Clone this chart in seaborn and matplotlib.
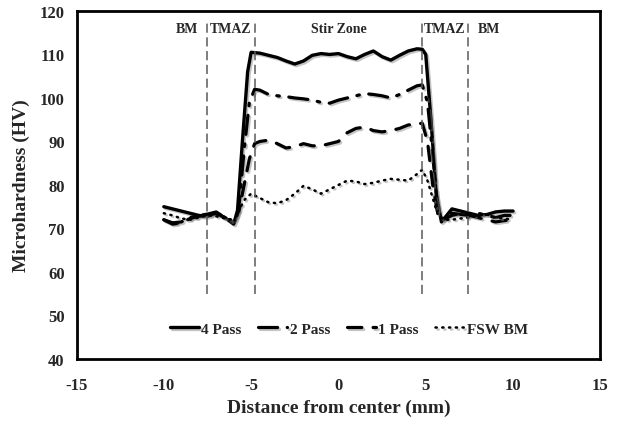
import matplotlib
matplotlib.use("Agg")
import matplotlib.pyplot as plt
import matplotlib.patheffects as pe
import seaborn as sns
import pandas as pd

# ---- data ----
x_4pass = [-10, -9.5, -9, -8.5, -8, -7.5, -7, -6.5, -6, -5.8, -5.5, -5.2, -5.0, -4.5, -4, -3.5, -3, -2.5, -2,
           -1.5, -1, -0.5, 0, 0.5, 1, 1.5, 2, 2.5, 3, 3.5, 4, 4.5, 4.8, 5.0, 5.3, 5.6, 5.9, 6.2, 6.5, 7, 7.5,
           8, 8.5, 9, 9.5, 10]
y_4pass = [75, 74.5, 74, 73.5, 73, 72.8, 73.5, 72.5, 71, 73, 90, 106, 110.5, 110.3, 109.8, 109.3, 108.5, 107.8,
           108.5, 109.8, 110.2, 110, 110.2, 109.5, 109, 110, 110.8, 109.5, 108.7, 109.8, 110.8, 111.3, 111.2,
           110, 95, 78, 71.5, 73, 74.5, 74, 73.5, 73, 73.2, 73.8, 74, 74]

x_2pass = [-10, -9.5, -9, -8.5, -8, -7.5, -7, -6.5, -6, -5.7, -5.4, -5.1, -4.8, -4.5, -4, -3.5, -3, -2.5, -2,
           -1.5, -1, -0.5, 0, 0.5, 1, 1.5, 2, 2.5, 3, 3.5, 4, 4.5, 4.8, 5.1, 5.4, 5.7, 6, 6.5, 7, 7.5, 8, 8.5,
           9, 9.5, 10]
y_2pass = [72, 71.3, 71.5, 72.5, 73, 73.3, 73.8, 72.5, 71.5, 75, 88, 99, 102, 101.8, 100.8, 100.5, 100.3, 100,
           99.8, 99.5, 99, 98.8, 99.5, 100, 100.5, 101, 100.8, 100.5, 100, 100.8, 101.8, 102.8, 103, 99, 87, 74,
           72, 73.5, 73.2, 73, 73.5, 73, 72.5, 73, 73]

x_1pass = [-10, -9.5, -9, -8.5, -8, -7.5, -7, -6.5, -6, -5.7, -5.4, -5.1, -4.8, -4.5, -4, -3.5, -3, -2.5, -2,
           -1.5, -1, -0.5, 0, 0.5, 1, 1.5, 2, 2.5, 3, 3.5, 4, 4.5, 4.8, 5.1, 5.4, 5.7, 6, 6.5, 7, 7.5, 8, 8.5,
           9, 9.5, 10]
y_1pass = [72, 71, 71.3, 72.3, 72.8, 73, 73.5, 72.5, 71.5, 74, 80, 86, 89.5, 90, 90.3, 89.5, 88.5, 88.8, 89.5,
           89, 89, 89.5, 90, 92, 93, 93.3, 92.5, 92.2, 92.5, 93, 93.8, 94, 94.2, 90, 80, 73, 72, 73, 73.5, 73,
           72.5, 72, 71.5, 71.8, 72]

x_fswbm = [-10, -9.5, -9, -8.5, -8, -7.5, -7, -6.5, -6, -5.7, -5.4, -5.0, -4.5, -4, -3.5, -3, -2.5, -2, -1.5,
           -1, -0.5, 0, 0.5, 1, 1.5, 2, 2.5, 3, 3.5, 4, 4.5, 4.8, 5.1, 5.4, 5.7, 6, 6.5, 7, 7.5, 8, 8.5, 9,
           9.5, 10]
y_fswbm = [73.5, 73, 72.3, 72, 72.5, 73, 72.8, 72.3, 72, 74, 76.5, 78, 77, 76, 75.8, 76.5, 78, 79.8, 79, 78,
           79, 80, 81, 80.8, 80.2, 80.5, 81, 81.4, 81.2, 81, 82.5, 83.5, 81, 77, 73, 72, 72, 72.3, 72.5, 73,
           73.2, 72.5, 72.3, 72]

series_names = ["4 Pass", "2 Pass", "1 Pass", "FSW BM"]
zone_lines = [-7.5, -4.8, 4.8, 7.4]
zone_labels = ["BM", "TMAZ", "Stir Zone", "TMAZ", "BM"]
zone_label_x = [-8.7, -6.2, 0.0, 6.05, 8.6]
x_ticks = [-15, -10, -5, 0, 5, 10, 15]
y_ticks = [40, 50, 60, 70, 80, 90, 100, 110, 120]

# ---- styling ----
sns.set_style("white")
plt.rcParams["font.family"] = ["Liberation Serif", "DejaVu Serif"]
plt.rcParams["font.weight"] = "bold"
plt.rcParams["axes.unicode_minus"] = False

fig = plt.figure(figsize=(6.17, 4.27), dpi=100)
ax = fig.add_axes([0.124, 0.157, 0.849, 0.815])

styles = {
    "4 Pass": "-",
    "2 Pass": (0, (6, 3, 0.8, 3)),
    "1 Pass": (0, (4.5, 3.5)),
    "FSW BM": (0, (0.5, 2.2)),
}
widths = {"4 Pass": 2.4, "2 Pass": 2.3, "1 Pass": 2.3, "FSW BM": 1.8}
data = {
    "4 Pass": (x_4pass, y_4pass),
    "2 Pass": (x_2pass, y_2pass),
    "1 Pass": (x_1pass, y_1pass),
    "FSW BM": (x_fswbm, y_fswbm),
}
shadow = [pe.SimpleLineShadow(offset=(1.2, -1.2), shadow_color="gray", alpha=0.45), pe.Normal()]

for name in series_names:
    xs, ys = data[name]
    df = pd.DataFrame({"x": xs, "y": ys})
    sns.lineplot(data=df, x="x", y="y", ax=ax, color="black", linestyle=styles[name],
                 linewidth=widths[name], label=name, sort=False,
                 estimator=None, solid_capstyle="round", dash_capstyle="round",
                 path_effects=shadow)

for xv in zone_lines:
    ax.plot([xv, xv], [55, 118], color="#5a5a5a", linestyle=(0, (6, 3)), linewidth=1.1)

for lab, xv in zip(zone_labels, zone_label_x):
    ax.text(xv, 116, lab, ha="center", va="center", fontsize=10, fontweight="bold")

ax.set_xlim(-15, 15)
ax.set_ylim(40, 120)
ax.set_xticks(x_ticks)
ax.set_yticks(y_ticks)
ax.tick_params(direction="in", length=5, width=1.5, labelsize=12)
ax.tick_params(axis="x", pad=13)
ax.tick_params(axis="y", pad=8.5)
for lbl in ax.get_xticklabels() + ax.get_yticklabels():
    lbl.set_fontweight("bold")
for sp in ax.spines.values():
    sp.set_linewidth(2)
    sp.set_color("black")

ax.set_xlabel("Distance from center (mm)", fontsize=14, fontweight="bold", labelpad=4)
ax.set_ylabel("Microhardness (HV)", fontsize=14, fontweight="bold", labelpad=7)

leg = ax.legend(loc="center", bbox_to_anchor=(0.52, 0.087), ncol=4, frameon=False,
                handlelength=1.9, handletextpad=0.15, columnspacing=1.1,
                prop={"weight": "bold", "size": 11})

fig.savefig("out.png", dpi=100)
